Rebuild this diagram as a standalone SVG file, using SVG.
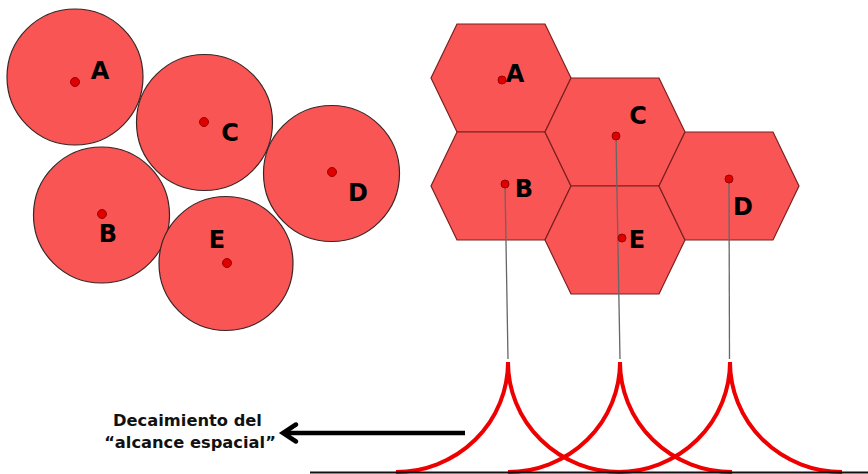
<svg xmlns="http://www.w3.org/2000/svg" width="868" height="474" viewBox="0 0 868 474">
<style>
.circ{fill:#fa5555;stroke:#3a2424;stroke-width:1.2}
.hex{fill:#fa5555;stroke:#7a2020;stroke-width:1.2}
.dot{fill:#e00000;stroke:#9a0000;stroke-width:1}
.lbl{font-family:"DejaVu Sans",Verdana,sans-serif;font-weight:bold;font-size:24px;fill:#000;text-anchor:middle}
.cap{font-family:"DejaVu Sans",Verdana,sans-serif;font-weight:bold;font-size:16.3px;fill:#111;text-anchor:middle}
.lead{stroke:#666;stroke-width:1.3;fill:none}
.decay{stroke:#ee0000;stroke-width:4;fill:none}
</style>
<rect width="868" height="474" fill="#fff"/>
<g id="circles">
<g id="circle-A"><circle class="circ" cx="75" cy="77" r="68"/><circle class="dot" cx="75" cy="82" r="4.5"/><text class="lbl" x="100" y="79">A</text></g>
<g id="circle-C"><circle class="circ" cx="204.5" cy="122.5" r="68"/><circle class="dot" cx="204" cy="122" r="4.5"/><text class="lbl" x="230" y="141">C</text></g>
<g id="circle-D"><circle class="circ" cx="331.5" cy="173.5" r="68"/><circle class="dot" cx="332" cy="172" r="4.5"/><text class="lbl" x="358" y="201">D</text></g>
<g id="circle-B"><circle class="circ" cx="101.5" cy="215" r="68"/><circle class="dot" cx="102" cy="214" r="4.5"/><text class="lbl" x="108" y="242">B</text></g>
<g id="circle-E"><circle class="circ" cx="226" cy="263.5" r="67"/><circle class="dot" cx="227" cy="263" r="4.5"/><text class="lbl" x="217" y="248">E</text></g>
</g>
<g id="hexagons">
<g id="hex-A"><polygon class="hex" points="431,78 457,24 545,24 571,78 545,132 457,132"/></g>
<g id="hex-B"><polygon class="hex" points="431,186 457,132 545,132 571,186 545,240 457,240"/></g>
<g id="hex-C"><polygon class="hex" points="545,132 571,78 659,78 685,132 659,186 571,186"/></g>
<g id="hex-E"><polygon class="hex" points="545,240 571,186 659,186 685,240 659,294 571,294"/></g>
<g id="hex-D"><polygon class="hex" points="659,186 685,132 773,132 799,186 773,240 685,240"/></g>
</g>
<g id="connectors">
<line class="lead" x1="505" y1="184" x2="508" y2="359"/>
<line class="lead" x1="616" y1="136" x2="620" y2="359"/>
<line class="lead" x1="729" y1="179" x2="729.5" y2="359"/>
<path class="decay" d="M396,472 A112,110 0 0 0 508,362 A112,110 0 0 0 620,472"/>
<path class="decay" d="M508,472 A112,110 0 0 0 620,362 A112,110 0 0 0 732,472"/>
<path class="decay" d="M618,472 A112,110 0 0 0 730,362 A112,110 0 0 0 842,472"/>
<line x1="310" y1="472.5" x2="868" y2="472.5" stroke="#111" stroke-width="2"/>
<line x1="465" y1="433" x2="284" y2="433" stroke="#000" stroke-width="4.5"/>
<polyline points="296,424.5 283,433 296,441.5" fill="none" stroke="#000" stroke-width="4.5" stroke-linejoin="miter" stroke-linecap="round"/>
</g>
<g id="hex-labels">
<circle class="dot" cx="502" cy="80" r="4"/><text class="lbl" x="515" y="82">A</text>
<circle class="dot" cx="505" cy="184" r="4"/><text class="lbl" x="524" y="197">B</text>
<circle class="dot" cx="616" cy="136" r="4"/><text class="lbl" x="638" y="124">C</text>
<circle class="dot" cx="622" cy="238" r="4"/><text class="lbl" x="637" y="248">E</text>
<circle class="dot" cx="729" cy="179" r="4"/><text class="lbl" x="743" y="215">D</text>
</g>
<g id="caption">
<text class="cap" x="187.5" y="426">Decaimiento del</text>
<text class="cap" x="190" y="448">“alcance espacial”</text>
</g>
</svg>
